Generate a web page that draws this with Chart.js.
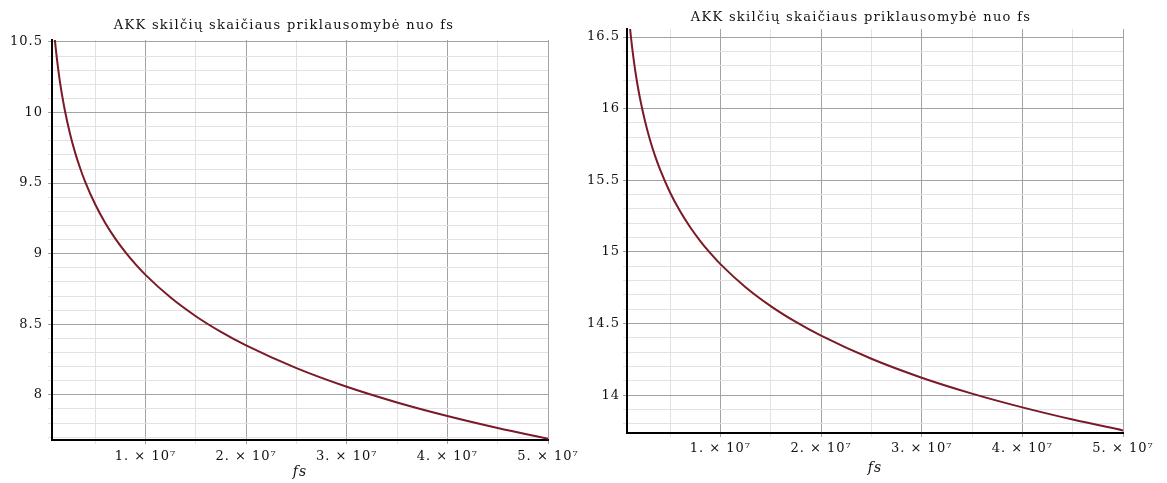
<!DOCTYPE html>
<html><head><meta charset="utf-8">
<script src="https://cdn.jsdelivr.net/npm/chart.js@4.4.1/dist/chart.umd.min.js"></script>
<style>
html,body{margin:0;padding:0;background:#fff;}
#wrap{position:relative;width:1167px;height:483px;overflow:hidden;background:#fff;}
canvas{position:absolute;top:0;}
.ttl{position:absolute;font-family:"DejaVu Serif",serif;font-size:13px;line-height:15px;letter-spacing:1.3px;white-space:nowrap;transform:translateX(-50%);color:#111;}
</style></head><body>
<div id="wrap">
<canvas id="c1" width="580" height="483" style="left:0px"></canvas>
<canvas id="c2" width="587" height="483" style="left:580px"></canvas>
<div class="ttl" id="t1" style="left:284px;top:17px"></div>
<div class="ttl" id="t2" style="left:861px;top:9px"></div>
</div>
<script>
const chartTitle = 'AKK skilčių skaičiaus priklausomybė nuo fs';
const xAxisTitle = 'fs';

// sampling frequency fs (Hz)
const fsValues = [950000, 1000000, 1100000, 1250000, 1500000, 1750000, 2000000, 2500000,
  3000000, 3500000, 4000000, 5000000, 6000000, 7000000, 8000000, 9000000, 10000000,
  12500000, 15000000, 17500000, 20000000, 25000000, 30000000, 35000000, 40000000,
  45000000, 50000000];

// ADC bit count, left chart
const bitsLeft = [10.548, 10.511, 10.442, 10.350, 10.218, 10.107, 10.011, 9.850,
  9.718, 9.607, 9.511, 9.350, 9.218, 9.107, 9.011, 8.926, 8.850,
  8.689, 8.557, 8.446, 8.350, 8.189, 8.057, 7.946, 7.850,
  7.765, 7.689];

// ADC bit count, right chart
const bitsRight = [16.613, 16.576, 16.507, 16.415, 16.283, 16.172, 16.076, 15.915,
  15.783, 15.672, 15.576, 15.415, 15.283, 15.172, 15.076, 14.991, 14.915,
  14.754, 14.622, 14.511, 14.415, 14.254, 14.122, 14.011, 13.915,
  13.830, 13.754];

// tick values and labels
const xMajorTicks = [10000000, 20000000, 30000000, 40000000, 50000000];
const xMajorLabels = ['1. × 10⁷', '2. × 10⁷', '3. × 10⁷', '4. × 10⁷', '5. × 10⁷'];
const xMinorTicks = [5000000, 15000000, 25000000, 35000000, 45000000];

const yLeftMajorTicks = [8, 8.5, 9, 9.5, 10, 10.5];
const yLeftMajorLabels = ['8', '8.5', '9', '9.5', '10', '10.5'];
const yRightMajorTicks = [14, 14.5, 15, 15.5, 16, 16.5];
const yRightMajorLabels = ['14', '14.5', '15', '15.5', '16', '16.5'];

document.getElementById('t1').textContent = chartTitle;
document.getElementById('t2').textContent = chartTitle;

const MAJOR_GRID = '#a3a3a3';
const MINOR_GRID = '#e2e2e2';
const LINE_COLOR = '#7a1a26';
const FONT = '"DejaVu Serif", serif';

function near(a, b) { return Math.abs(a - b) < 1e-6 * Math.max(1, Math.abs(b)); }
function findIdx(list, v) { for (let i = 0; i < list.length; i++) if (near(v, list[i])) return i; return -1; }

function minorY(min, max, majors) {
  const out = [];
  for (let k = Math.ceil(min * 10 - 1e-6); k <= Math.floor(max * 10 + 1e-6); k++) {
    const v = k / 10;
    if (findIdx(majors, v) < 0) out.push(v);
  }
  return out;
}

const spacingPlugin = {
  id: 'spacing',
  beforeDraw(chart) { chart.ctx.letterSpacing = '1px'; }
};

function makeChart(id, values, c) {
  const yMinor = minorY(c.ymin, c.ymax, c.yMajors);
  const xAll = xMinorTicks.concat(xMajorTicks).sort((a, b) => a - b);
  const yAll = yMinor.concat(c.yMajors).sort((a, b) => a - b);
  const pts = fsValues.map((f, i) => ({ x: f, y: values[i] }));
  return new Chart(document.getElementById(id), {
    type: 'line',
    data: { datasets: [{
      data: pts,
      borderColor: LINE_COLOR,
      borderWidth: 2,
      pointRadius: 0,
      fill: false,
      cubicInterpolationMode: 'monotone'
    }]},
    plugins: [spacingPlugin],
    options: {
      responsive: false,
      animation: false,
      devicePixelRatio: 1,
      layout: { padding: { top: c.top, right: c.padRight, left: 0, bottom: 0 } },
      plugins: { legend: { display: false }, title: { display: false }, tooltip: { enabled: false } },
      scales: {
        x: {
          type: 'linear',
          min: c.xmin, max: 50000000,
          afterBuildTicks: s => { s.ticks = xAll.map(v => ({ value: v })); },
          afterFit: s => { s.height = c.xHeight; },
          grid: {
            color: ctx => (findIdx(xMajorTicks, ctx.tick.value) >= 0 ? MAJOR_GRID : MINOR_GRID),
            lineWidth: 1, drawTicks: true, tickLength: 4
          },
          border: { display: true, color: '#000', width: 2 },
          ticks: {
            autoSkip: false, maxRotation: 0, padding: c.xTickPad,
            color: '#111', font: { family: FONT, size: 13 },
            callback: v => { const i = findIdx(xMajorTicks, v); return i >= 0 ? xMajorLabels[i] : ''; }
          },
          title: {
            display: true, text: xAxisTitle, color: '#111',
            font: { family: FONT, size: 14, style: 'italic' },
            padding: { top: 0, bottom: c.xTitlePad }
          }
        },
        y: {
          type: 'linear',
          min: c.ymin, max: c.ymax,
          afterBuildTicks: s => { s.ticks = yAll.map(v => ({ value: v })); },
          afterFit: s => { s.width = c.yWidth; },
          grid: {
            color: ctx => (findIdx(c.yMajors, ctx.tick.value) >= 0 ? MAJOR_GRID : MINOR_GRID),
            lineWidth: 1, drawTicks: true, tickLength: 4
          },
          border: { display: true, color: '#000', width: 2 },
          ticks: {
            autoSkip: false, padding: c.yTickPad,
            color: '#111', font: { family: FONT, size: 13 },
            callback: v => { const i = findIdx(c.yMajors, v); return i >= 0 ? c.yLabels[i] : ''; }
          }
        }
      }
    }
  });
}

makeChart('c1', bitsLeft, {
  xmin: 710000, ymin: 7.68, ymax: 10.514,
  yMajors: yLeftMajorTicks, yLabels: yLeftMajorLabels,
  top: 40, padRight: 32, yWidth: 52, xHeight: 43,
  xTickPad: 5, yTickPad: 5, xTitlePad: 2
});
makeChart('c2', bitsRight, {
  xmin: 720000, ymin: 13.736, ymax: 16.556,
  yMajors: yRightMajorTicks, yLabels: yRightMajorLabels,
  top: 29, padRight: 44, yWidth: 47, xHeight: 50,
  xTickPad: 4, yTickPad: 3, xTitlePad: 6
});
</script>
</body></html>
